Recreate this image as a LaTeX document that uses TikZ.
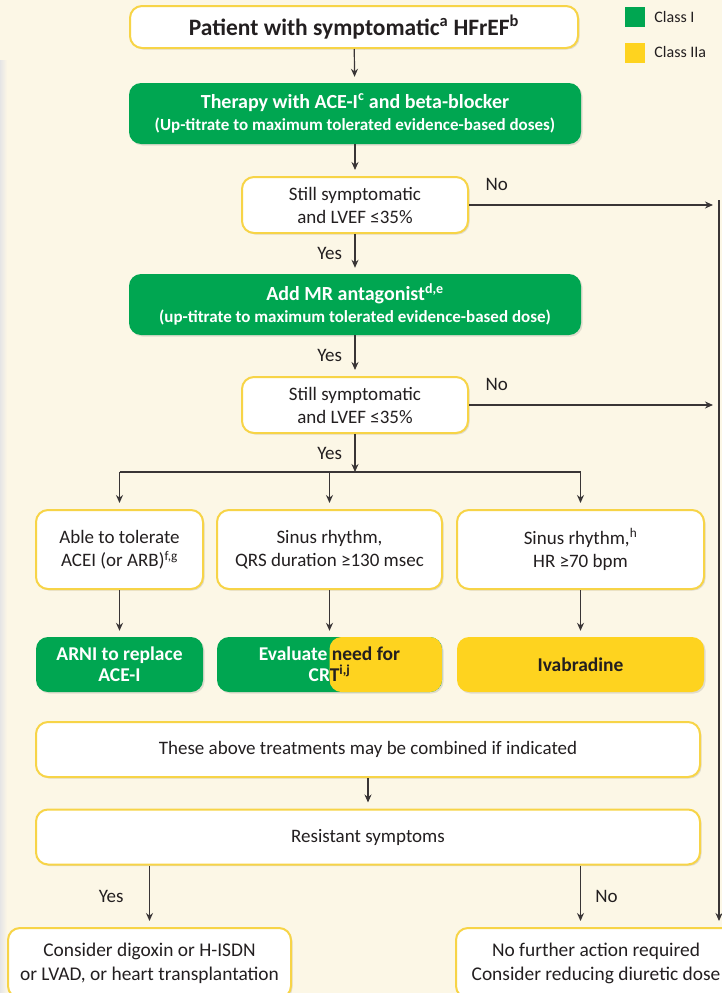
\documentclass[tikz,border=0pt]{standalone}
\usepackage{fontspec}
\setmainfont{Carlito}
\usepackage{xcolor}
\usepackage{tikz}
\usetikzlibrary{arrows.meta,positioning,shadows}
\definecolor{classgreen}{HTML}{00A651}
\definecolor{classyellow}{HTML}{FED31F}
\definecolor{boxedge}{HTML}{F7D447}
\definecolor{paper}{HTML}{FCF7E6}
\definecolor{ink}{HTML}{231F20}

\begin{document}
\begin{tikzpicture}[
    x=1pt, y=-1pt,
    >={Stealth[length=8pt,width=7pt]},
    font=\fontsize{19}{23}\selectfont,
    text=ink,
    softshadow/.style={drop shadow={shadow xshift=1.5pt, shadow yshift=-1.5pt, opacity=0.18, fill=black!60}},
    startbox/.style={rectangle, rounded corners=12pt, draw=boxedge, line width=2pt, fill=white, minimum width=448pt, minimum height=42pt, font=\fontsize{23.5}{28}\selectfont\bfseries, softshadow},
    greenbox/.style={rectangle, rounded corners=12pt, fill=classgreen, text=white, minimum width=452pt, minimum height=61pt, align=center, font=\fontsize{20}{22}\selectfont\bfseries, softshadow},
    query/.style={rectangle, rounded corners=12pt, draw=boxedge, line width=2pt, fill=white, minimum width=226pt, minimum height=56pt, align=center, softshadow},
    option/.style={rectangle, rounded corners=12pt, draw=boxedge, line width=2pt, fill=white, minimum height=79pt, align=center, softshadow},
    treat/.style={rectangle, rounded corners=12pt, minimum height=55pt, align=center, font=\fontsize{19.5}{21}\selectfont\bfseries, softshadow},
    treattext/.style={align=center, font=\fontsize{19.5}{21}\selectfont\bfseries},
    widebox/.style={rectangle, rounded corners=12pt, draw=boxedge, line width=2pt, fill=white, minimum width=664pt, minimum height=55pt, softshadow},
    outcome/.style={rectangle, rounded corners=12pt, draw=boxedge, line width=2pt, fill=white, minimum height=70pt, align=center, font=\fontsize{19.4}{24}\selectfont, softshadow},
    keybox/.style={rectangle, minimum width=20pt, minimum height=20pt},
    keytext/.style={font=\fontsize{16}{18}\selectfont, inner sep=1pt},
    flow/.style={->, draw=ink!90, line width=1.2pt, shorten >=6pt},
    rule/.style={draw=ink!90, line width=1.2pt}
]

\useasboundingbox (0,0) rectangle (722,993);
\clip (0,0) rectangle (722,993);
\fill[paper] (0,0) rectangle (722,993);
\fill[left color=black!10, right color=paper] (0,60) rectangle (7,993);

\node [keybox, fill=classgreen] (keyI) at (635,17) {};
\node [keytext, right=8pt of keyI] (keyItext) {Class I};
\node [keybox, fill=classyellow] (keyIIa) at (635,52.5) {};
\node [keytext, right=8pt of keyIIa] (keyIIatext) {Class IIa};

\node [startbox] (patient) at (354,27) {Patient with symptomatic\textsuperscript{a} HFrEF\textsuperscript{b}};
\node [greenbox] (therapy) at (355,113.5) {Therapy with ACE-I\textsuperscript{c} and beta-blocker\\{\fontsize{17}{20}\selectfont(Up-titrate to maximum tolerated evidence-based doses)}};
\node [query] (check1) at (355,205) {Still symptomatic\\and LVEF ≤35\%};
\node [greenbox] (mra) at (355,304.5) {Add MR antagonist\textsuperscript{d,e}\\{\fontsize{17}{20}\selectfont(up-titrate to maximum tolerated evidence-based dose)}};
\node [query] (check2) at (355,405) {Still symptomatic\\and LVEF ≤35\%};
\coordinate (split) at (355,472);

\node [option, minimum width=167pt] (tolerate) at (119.5,549.5) {Able to tolerate\\ACEI (or ARB)\textsuperscript{f,g}};
\node [option, minimum width=225pt] (qrs) at (329.5,549.5) {Sinus rhythm,\\QRS duration ≥130 msec};
\node [option, minimum width=247pt] (rate) at (580.5,549.5) {Sinus rhythm,\textsuperscript{h}\\HR ≥70 bpm};

\node [treat, fill=classgreen, text=white, minimum width=167pt] (arni) at (119.5,664.5) {ARNI to replace\\ACE-I};
\node [treat, fill=classgreen, minimum width=225pt, path picture={\fill[classyellow] (path picture bounding box.north) rectangle (path picture bounding box.south east);}] (crt) at (329.5,664.5) {};
\begin{scope}
  \clip (crt.north west) rectangle (crt.south);
  \node [treattext, text=white] (crtleft) at (crt) {Evaluate need for\\CRT\textsuperscript{i,j}};
\end{scope}
\begin{scope}
  \clip (crt.north) rectangle (crt.south east);
  \node [treattext, text=ink] (crtright) at (crt) {Evaluate need for\\CRT\textsuperscript{i,j}};
\end{scope}
\node [treat, fill=classyellow, minimum width=247pt] (ivab) at (580.5,664.5) {Ivabradine};

\node [widebox] (combine) at (368,749.5) {These above treatments may be combined if indicated};
\node [widebox] (resist) at (368,837) {Resistant symptoms};
\node [outcome, minimum width=283pt] (advanced) at (149.5,963) {Consider digoxin or H-ISDN\\or LVAD, or heart transplantation};
\node [outcome, minimum width=280pt] (noaction) at (596,963) {No further action required\\Consider reducing diuretic dose};

\coordinate (rail) at (719,200);

\draw [flow] (patient) -- (therapy);
\draw [flow] (therapy) -- (check1);
\draw [flow] (check1) -- node[left=9pt] (yes1) {Yes} (mra);
\draw [flow] (mra) -- node[left=9pt] (yes2) {Yes} (check2);
\draw [flow, shorten >=0pt] (check2) -- node[left=9pt] (yes3) {Yes} (split);
\draw [rule] (split -| tolerate) -- (split -| rate);
\draw [flow] (split -| tolerate) -- (tolerate);
\draw [flow] (split -| qrs) -- (qrs);
\draw [flow] (split -| rate) -- (rate);
\draw [flow] (tolerate) -- (arni);
\draw [flow] (qrs) -- (crt);
\draw [flow] (rate) -- (ivab);
\draw [flow] (combine) -- (resist);
\draw [flow] (resist.south -| advanced) -- node[left=22pt] (yes4) {Yes} (advanced);
\draw [flow] (resist.south -| rate) -- node[right=11pt] (no4) {No} (rate |- noaction.north);

\draw [flow] (check1.east) -- (check1.east -| rail);
\node [above right=11pt and 13pt of check1.east] (no1) {No};
\draw [flow] (check2.east) -- (check2.east -| rail);
\node [above right=11pt and 13pt of check2.east] (no2) {No};
\draw [flow] (rail) -- (rail |- noaction.north);

\end{tikzpicture}
\end{document}
